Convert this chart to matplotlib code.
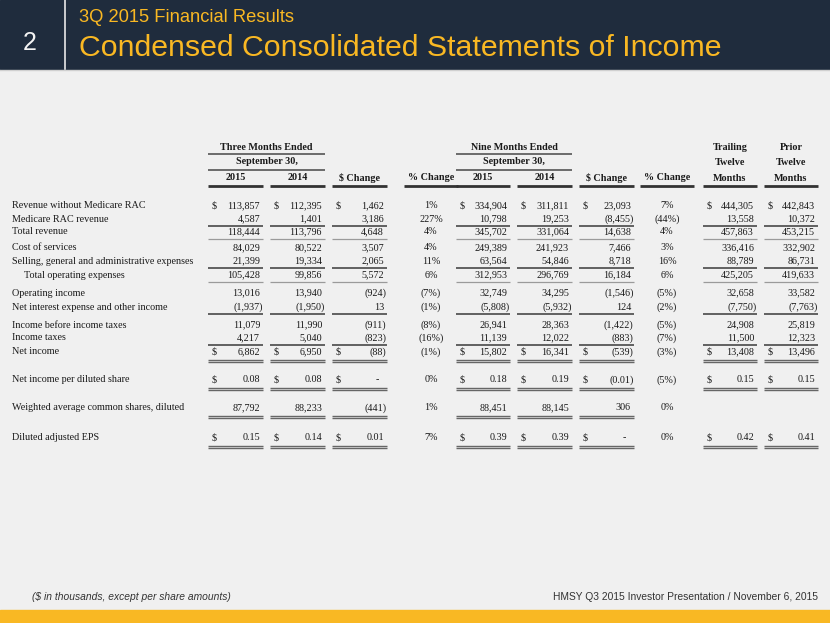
import matplotlib
matplotlib.use("Agg")
from matplotlib import pyplot as plt
from matplotlib.patches import Rectangle

# ---- data -------------------------------------------------------------
labels = ["Revenue without Medicare RAC", "Medicare RAC revenue", "Total revenue",
          "Cost of services", "Selling, general and administrative expenses",
          "Total operating expenses", "Operating income",
          "Net interest expense and other income", "Income before income taxes",
          "Income taxes", "Net income", "Net income per diluted share",
          "Weighted average common shares, diluted", "Diluted adjusted EPS"]

q3_2015 = [113857, 4587, 118444, 84029, 21399, 105428, 13016, -1937, 11079, 4217, 6862, 0.08, 87792, 0.15]
q3_2014 = [112395, 1401, 113796, 80522, 19334, 99856, 13940, -1950, 11990, 5040, 6950, 0.08, 88233, 0.14]
q3_chg = [1462, 3186, 4648, 3507, 2065, 5572, -924, 13, -911, -823, -88, 0.0, -441, 0.01]
q3_pct = [1, 227, 4, 4, 11, 6, -7, -1, -8, -16, -1, 0, 1, 7]
ytd_2015 = [334904, 10798, 345702, 249389, 63564, 312953, 32749, -5808, 26941, 11139, 15802, 0.18, 88451, 0.39]
ytd_2014 = [311811, 19253, 331064, 241923, 54846, 296769, 34295, -5932, 28363, 12022, 16341, 0.19, 88145, 0.39]
ytd_chg = [23093, -8455, 14638, 7466, 8718, 16184, -1546, 124, -1422, -883, -539, -0.01, 306, 0.0]
ytd_pct = [7, -44, 4, 3, 16, 6, -5, -2, -5, -7, -3, -5, 0, 0]
ttm = [444305, 13558, 457863, 336416, 88789, 425205, 32658, -7750, 24908, 11500, 13408, 0.15, None, 0.42]
prior_ttm = [442843, 10372, 453215, 332902, 86731, 419633, 33582, -7763, 25819, 12323, 13496, 0.15, None, 0.41]

dollar_rows = [0, 10, 11, 13]
per_share_rows = [11, 13]
single_under = [1, 4, 7]
faint_under = [2, 5]
double_under = [10, 11, 12, 13]

# ---- layout -----------------------------------------------------------
W, H = 830, 623
row_y = [206, 219, 232, 248, 261, 275, 293, 307, 325, 338, 352, 380, 408, 438]
cols = [(208, 263), (270, 325), (332, 387), (456, 510), (517, 572),
        (579, 634), (703, 757), (764, 818)]
pct_x = [431, 667]

serif = "Liberation Serif"
sans = ["Liberation Sans"]
txt = "#1a1a1a"
navy = "#1f2c3d"
gold = "#f9b823"

fig = plt.figure(figsize=(W / 100, H / 100), dpi=100)
fig.patch.set_facecolor("#f0f0f0")
ax = fig.add_axes([0, 0, 1, 1])
ax.set_xlim(0, W)
ax.set_ylim(H, 0)
ax.axis("off")

# header band
ax.add_patch(Rectangle((0, 0), W, 69, color=navy, zorder=1))
ax.plot([0, W], [69.5, 69.5], color="#d0d0d0", lw=1, zorder=2)
ax.plot([65, 65], [0, 69], color="#e8e8e8", lw=1.2, zorder=2)
ax.text(30, 43, "2", color="#f4f4f4", fontsize=18, family=sans, ha="center", va="center")
ax.text(79, 18, "3Q 2015 Financial Results", color=gold, fontsize=13.2,
        family=sans, ha="left", va="center")
ax.text(79, 48, "Condensed Consolidated Statements of Income", color=gold,
        fontsize=21.8, family=sans, ha="left", va="center")

# footer
ax.add_patch(Rectangle((0, 610), W, 13, color=gold, zorder=1))
ax.text(32, 597, "($ in thousands, except per share amounts)", color="#333333",
        fontsize=7.4, style="italic", family=sans, ha="left", va="center")
ax.text(818, 597, "HMSY Q3 2015 Investor Presentation / November 6, 2015",
        color="#333333", fontsize=7.4, family=sans, ha="right", va="center")


def hline(x0, x1, y, lw=1.0, color="#555555"):
    ax.plot([x0, x1], [y, y], color=color, lw=lw, solid_capstyle="butt", zorder=3)


fs = 7.3
bold = dict(fontsize=fs, family=serif, weight="bold", color=txt, va="center", ha="center")

# column headings
for (a, b), (c, d), title in [(cols[0], cols[1], "Three Months Ended"),
                              (cols[3], cols[4], "Nine Months Ended")]:
    xm = (a + d) / 2
    ax.text(xm, 147, title, **bold)
    hline(a, d, 154, 1.2)
    ax.text(xm, 162, "September 30,", **bold)
    hline(a, d, 169.5, 1.2)

heads = ["2015", "2014", "$ Change", "2015", "2014", "$ Change"]
for (a, b), h in zip(cols[:6], heads):
    ax.text((a + b) / 2, 178, h, **bold)
    hline(a, b, 186, 2.0, "#333333")
for xc in pct_x:
    ax.text(xc, 178, "% Change", **bold)
    hline(xc - 27, xc + 27, 186, 2.0, "#333333")
for (a, b), words in zip(cols[6:], [["Trailing", "Twelve", "Months"],
                                    ["Prior", "Twelve", "Months"]]):
    for yy, w in zip([147, 162.5, 178.5], words):
        ax.text((a + b) / 2, yy, w, **bold)
    hline(a, b, 186, 2.0, "#333333")


def fmt(v, per_share):
    if v is None:
        return ""
    if per_share:
        if abs(v) < 0.005:
            return "-"
        s = f"{abs(v):.2f}"
    else:
        s = f"{abs(v):,.0f}"
    return f"({s})" if v < 0 else s


def fmt_pct(v):
    return f"({abs(v)}%)" if v < 0 else f"{v}%"


series = [q3_2015, q3_2014, q3_chg, ytd_2015, ytd_2014, ytd_chg, ttm, prior_ttm]
pcts = [q3_pct, ytd_pct]
norm = dict(fontsize=fs, family=serif, color=txt, va="center")

for i, lab in enumerate(labels):
    y = row_y[i]
    ax.text(24 if i == 5 else 12, y, lab, ha="left", **norm)
    ps = i in per_share_rows
    for (a, b), vals in zip(cols, series):
        v = vals[i]
        if v is None:
            continue
        s = fmt(v, ps)
        if s == "-":
            ax.text(b - 8, y, s, ha="right", **norm)
        else:
            ax.text(b - 3 + (2.5 if s.endswith(")") else 0), y, s, ha="right", **norm)
        if i in dollar_rows:
            ax.text(a + 4, y, "$", ha="left", **norm)
        if i in single_under:
            hline(a, b, y + 6.5, 1.3)
        if i in faint_under:
            hline(a, b, y + 7, 0.9, "#9a9a9a")
        if i == 10:
            hline(a, b, y - 7.5, 1.3)
        if i in double_under:
            hline(a, b, y + 7.5, 1.0, "#666666")
            hline(a, b, y + 9.8, 1.0, "#666666")
    for xc, vals in zip(pct_x, pcts):
        ax.text(xc, y, fmt_pct(vals[i]), ha="center", **norm)

fig.savefig("out.png", dpi=100, facecolor=fig.get_facecolor())
